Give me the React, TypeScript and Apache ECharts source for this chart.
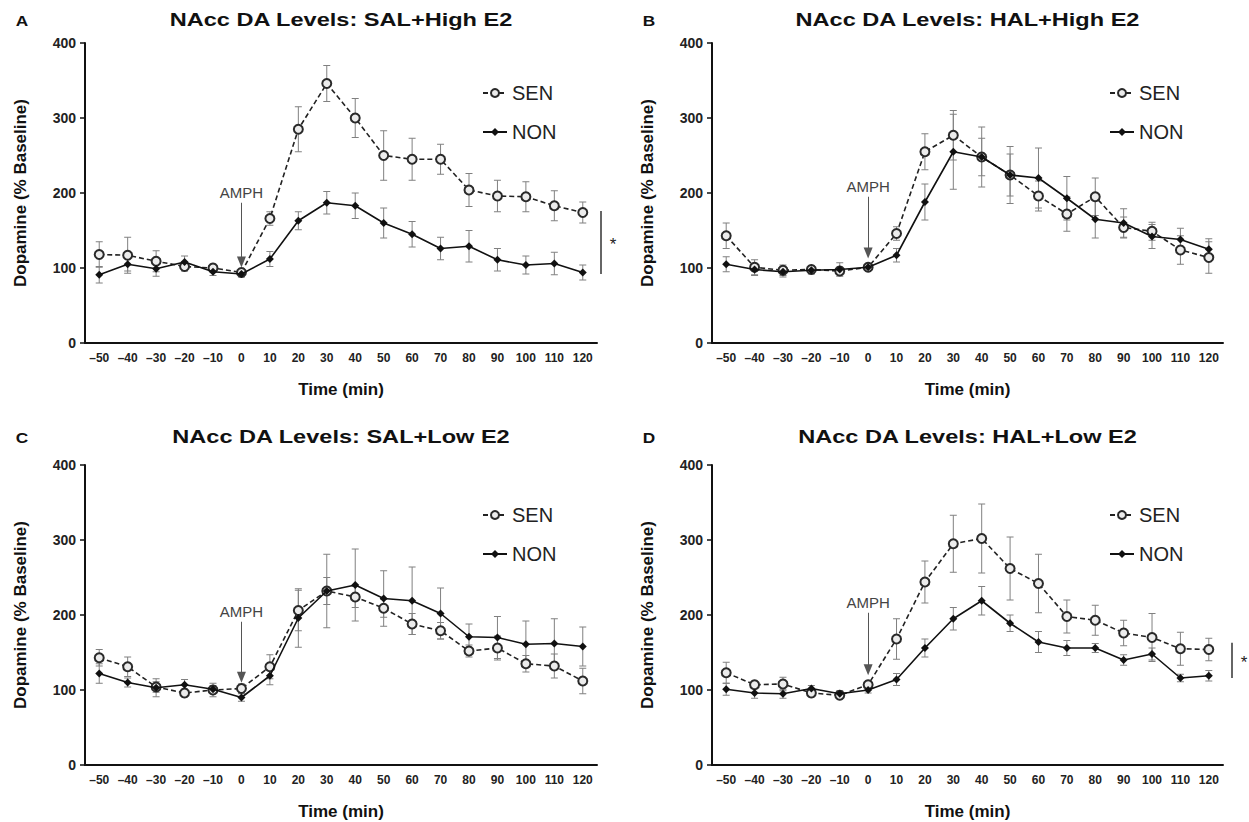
import React, { useEffect, useRef } from 'react';
import * as echarts from 'echarts';

// Sampling times (min) relative to amphetamine injection
const TIMES = [-50, -40, -30, -20, -10, 0, 10, 20, 30, 40, 50, 60, 70, 80, 90, 100, 110, 120];
const TIME_LABELS = TIMES.map((t) => (t < 0 ? '\u2013' + Math.abs(t) : String(t)));
const Y_TICKS = [0, 100, 200, 300, 400];

// Panel A: SAL + High E2
const A_SEN = [118, 117, 109, 102, 100, 94, 166, 285, 346, 300, 250, 245, 245, 204, 196, 195, 183, 174];
const A_SEN_ERR = [17, 24, 14, 6, 5, 4, 9, 30, 24, 26, 33, 28, 20, 22, 21, 20, 20, 14];
const A_NON = [91, 105, 99, 108, 95, 92, 112, 163, 187, 183, 160, 145, 126, 129, 111, 104, 106, 94];
const A_NON_ERR = [11, 9, 10, 8, 5, 4, 10, 12, 15, 17, 20, 17, 15, 21, 15, 12, 15, 10];

// Panel B: HAL + High E2
const B_SEN = [143, 101, 97, 98, 96, 101, 146, 255, 277, 248, 224, 196, 172, 195, 154, 149, 124, 114];
const B_SEN_ERR = [17, 10, 7, 5, 5, 4, 9, 24, 33, 25, 28, 20, 23, 25, 14, 12, 19, 21];
const B_NON = [105, 98, 95, 97, 98, 101, 117, 188, 255, 248, 224, 220, 193, 165, 160, 142, 138, 125];
const B_NON_ERR = [10, 8, 7, 5, 9, 4, 9, 24, 50, 40, 38, 40, 29, 25, 19, 16, 15, 14];

// Panel C: SAL + Low E2
const C_SEN = [143, 131, 104, 96, 100, 102, 131, 206, 232, 224, 209, 188, 179, 152, 156, 135, 132, 112];
const C_SEN_ERR = [11, 13, 7, 5, 9, 6, 16, 27, 18, 14, 12, 14, 11, 8, 16, 11, 16, 17];
const C_NON = [122, 110, 103, 107, 101, 90, 119, 196, 232, 240, 222, 219, 202, 171, 170, 161, 162, 158];
const C_NON_ERR = [13, 6, 12, 7, 5, 5, 12, 39, 49, 48, 37, 45, 34, 17, 28, 31, 33, 26];

// Panel D: HAL + Low E2
const D_SEN = [123, 107, 108, 96, 93, 107, 168, 244, 295, 302, 262, 242, 198, 193, 176, 170, 155, 154];
const D_SEN_ERR = [14, 4, 9, 5, 4, 4, 27, 28, 38, 46, 42, 39, 22, 20, 17, 32, 22, 15];
const D_NON = [101, 96, 95, 102, 95, 100, 114, 156, 195, 219, 189, 164, 156, 156, 140, 148, 116, 119];
const D_NON_ERR = [8, 7, 6, 4, 4, 4, 8, 12, 15, 19, 11, 14, 10, 6, 7, 8, 5, 7];

const TITLES = [
  'NAcc DA Levels: SAL+High E2',
  'NAcc DA Levels: HAL+High E2',
  'NAcc DA Levels: SAL+Low E2',
  'NAcc DA Levels: HAL+Low E2',
];
const LETTERS = ['A', 'B', 'C', 'D'];

// AMPH arrow: [start value, tip value] at t = 0
const AMPH_ARROWS = [
  [187, 108],
  [195, 120],
  [191, 117],
  [203, 127],
];

// Significance brackets: [panel index, upper value, lower value, gap from axis end]
const SIG_BRACKETS = [
  [0, 176, 92, 4],
  [3, 163, 116, 9],
];

const FONT = '"Liberation Sans", Arial, Helvetica, sans-serif';

const GRIDS = [
  { left: 85, top: 43, width: 512, height: 300 },
  { left: 712, top: 43, width: 511, height: 300 },
  { left: 85, top: 465, width: 512, height: 300 },
  { left: 712, top: 465, width: 511, height: 300 },
];
const TITLE_Y = [20, 20, 437, 437];

const LEGEND_POS = [
  { left: 477, top: 78 },
  { left: 1104, top: 78 },
  { left: 477, top: 500 },
  { left: 1104, top: 500 },
];

const PANEL_DATA = [
  { sen: A_SEN, senErr: A_SEN_ERR, non: A_NON, nonErr: A_NON_ERR },
  { sen: B_SEN, senErr: B_SEN_ERR, non: B_NON, nonErr: B_NON_ERR },
  { sen: C_SEN, senErr: C_SEN_ERR, non: C_NON, nonErr: C_NON_ERR },
  { sen: D_SEN, senErr: D_SEN_ERR, non: D_NON, nonErr: D_NON_ERR },
];

const ERR_COLOR = '#808080';

function renderErrorBar(params: any, api: any) {
  const idx = api.value(0);
  const lo = api.coord([idx, api.value(1)]);
  const hi = api.coord([idx, api.value(2)]);
  const w = 3.5;
  const style = { stroke: ERR_COLOR, lineWidth: 1 };
  return {
    type: 'group',
    children: [
      { type: 'line', shape: { x1: lo[0], y1: lo[1], x2: hi[0], y2: hi[1] }, style },
      { type: 'line', shape: { x1: hi[0] - w, y1: hi[1], x2: hi[0] + w, y2: hi[1] }, style },
      { type: 'line', shape: { x1: lo[0] - w, y1: lo[1], x2: lo[0] + w, y2: lo[1] }, style },
    ],
  };
}

function errData(vals: number[], errs: number[]) {
  return vals.map((v, i) => [i, v - errs[i], v + errs[i]]);
}

export default function App() {
  const ref = useRef<HTMLDivElement>(null);

  useEffect(() => {
    document.body.style.margin = '0';
    if (!ref.current) return;
    const chart = echarts.init(ref.current, undefined, { renderer: 'svg' });

    const grid = GRIDS.map((g) => ({ ...g, containLabel: false }));

    const xAxis = GRIDS.map((_, i) => ({
      type: 'category',
      gridIndex: i,
      data: TIME_LABELS,
      boundaryGap: true,
      name: 'Time (min)',
      nameLocation: 'middle',
      nameGap: 38,
      nameTextStyle: { fontSize: 17, fontWeight: 'bold', color: '#111', fontFamily: FONT },
      axisLine: { lineStyle: { color: '#111', width: 2 } },
      axisTick: { alignWithLabel: true, length: 5, lineStyle: { color: '#111', width: 1.5 } },
      axisLabel: { fontSize: 12, fontWeight: 'bold', color: '#222', fontFamily: FONT, margin: 9, interval: 0 },
      splitLine: { show: false },
    }));

    const yAxis = GRIDS.map((_, i) => ({
      type: 'value',
      gridIndex: i,
      min: Y_TICKS[0],
      max: Y_TICKS[Y_TICKS.length - 1],
      interval: 100,
      name: 'Dopamine (% Baseline)',
      nameLocation: 'middle',
      nameGap: 56,
      nameTextStyle: { fontSize: 17, fontWeight: 'bold', color: '#111', fontFamily: FONT },
      axisLine: { show: true, lineStyle: { color: '#111', width: 2 } },
      axisTick: { show: true, length: 5, lineStyle: { color: '#111', width: 1.5 } },
      axisLabel: { fontSize: 14, fontWeight: 'bold', color: '#222', fontFamily: FONT, margin: 9 },
      splitLine: { show: false },
    }));

    const series: any[] = [];
    PANEL_DATA.forEach((p, i) => {
      series.push({
        type: 'custom',
        xAxisIndex: i,
        yAxisIndex: i,
        renderItem: renderErrorBar,
        data: errData(p.sen, p.senErr),
        encode: { x: 0, y: [1, 2] },
        z: 1,
        silent: true,
      });
      series.push({
        type: 'custom',
        xAxisIndex: i,
        yAxisIndex: i,
        renderItem: renderErrorBar,
        data: errData(p.non, p.nonErr),
        encode: { x: 0, y: [1, 2] },
        z: 1,
        silent: true,
      });
      series.push({
        name: 'SEN',
        type: 'line',
        xAxisIndex: i,
        yAxisIndex: i,
        data: p.sen,
        symbol: 'circle',
        symbolSize: 9,
        showAllSymbol: true,
        lineStyle: { color: '#222', width: 1.6, type: [5, 3] },
        itemStyle: { color: '#ececec', borderColor: '#2a2a2a', borderWidth: 2 },
        z: 3,
        markLine: {
          silent: true,
          symbol: ['none', 'triangle'],
          symbolSize: [9, 11],
          lineStyle: { color: '#555', width: 1, type: 'solid' },
          label: {
            show: true,
            position: 'start',
            distance: 3,
            formatter: 'AMPH',
            color: '#444',
            fontSize: 15,
            fontFamily: FONT,
          },
          data: [
            [
              { coord: [TIMES.indexOf(0), AMPH_ARROWS[i][0]] },
              { coord: [TIMES.indexOf(0), AMPH_ARROWS[i][1]] },
            ],
          ],
        },
      });
      series.push({
        name: 'NON',
        type: 'line',
        xAxisIndex: i,
        yAxisIndex: i,
        data: p.non,
        symbol: 'diamond',
        symbolSize: 8,
        showAllSymbol: true,
        lineStyle: { color: '#111', width: 1.6, type: 'solid' },
        itemStyle: { color: '#111' },
        z: 4,
      });
    });

    const legend = LEGEND_POS.map((pos) => ({
      ...pos,
      orient: 'vertical',
      data: ['SEN', 'NON'],
      itemWidth: 24,
      itemHeight: 10,
      itemGap: 19,
      selectedMode: false,
      textStyle: { fontSize: 20, color: '#222', fontFamily: FONT },
    }));

    chart.setOption({
      animation: false,
      backgroundColor: '#fff',
      grid,
      xAxis,
      yAxis,
      legend,
      series,
    });

    // Titles, panel letters and significance brackets
    const graphic: any[] = [];
    GRIDS.forEach((g, i) => {
      const cx = g.left + g.width / 2;
      graphic.push({
        type: 'text',
        x: cx,
        y: TITLE_Y[i],
        scaleX: 1.24,
        style: {
          text: TITLES[i],
          align: 'center',
          verticalAlign: 'middle',
          fontSize: 19,
          fontWeight: 'bold',
          fontFamily: FONT,
          fill: '#111',
        },
      });
      graphic.push({
        type: 'text',
        x: g.left - 63,
        y: TITLE_Y[i],
        scaleX: 1.15,
        style: {
          text: LETTERS[i],
          align: 'center',
          verticalAlign: 'middle',
          fontSize: 15,
          fontWeight: 'bold',
          fontFamily: FONT,
          fill: '#111',
        },
      });
    });
    SIG_BRACKETS.forEach(([pi, hiV, loV, gap]) => {
      const g = GRIDS[pi];
      const top = chart.convertToPixel({ gridIndex: pi }, [0, hiV]) as number[];
      const bot = chart.convertToPixel({ gridIndex: pi }, [0, loV]) as number[];
      const x = g.left + g.width + gap;
      graphic.push({
        type: 'line',
        shape: { x1: x, y1: top[1], x2: x, y2: bot[1] },
        style: { stroke: '#333', lineWidth: 1.5 },
      });
      graphic.push({
        type: 'text',
        x: x + 12,
        y: (top[1] + bot[1]) / 2 + 2,
        style: {
          text: '*',
          align: 'center',
          verticalAlign: 'middle',
          fontSize: 17,
          fontFamily: FONT,
          fill: '#222',
        },
      });
    });
    chart.setOption({ graphic });

    return () => chart.dispose();
  }, []);

  return <div ref={ref} style={{ width: 1249, height: 822 }} />;
}
